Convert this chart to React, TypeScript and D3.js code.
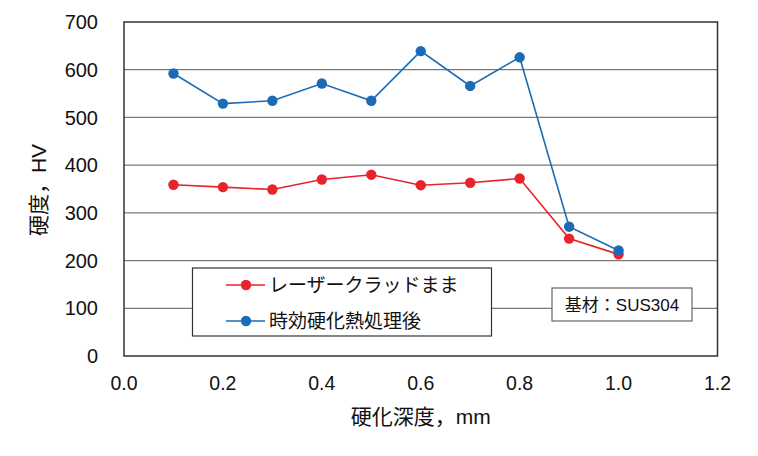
import React from "react";
import * as d3 from "d3";

const depths = [0.1, 0.2, 0.3, 0.4, 0.5, 0.6, 0.7, 0.8, 0.9, 1.0];
const laserClad = [359, 354, 349, 370, 380, 358, 363, 372, 246, 213];
const aged = [592, 529, 535, 571, 535, 639, 566, 626, 271, 221];
const xTicks = [0.0, 0.2, 0.4, 0.6, 0.8, 1.0, 1.2];
const yTicks = [0, 100, 200, 300, 400, 500, 600, 700];
const seriesNames = ["レーザークラッドまま", "時効硬化熱処理後"];
const colors = ["#e8232b", "#1b6cb5"];
const xTitle = "硬化深度，mm";
const yTitle = "硬度，HV";
const note = "基材：SUS304";

const W = 758;
const H = 456;
const M = { left: 124, right: 717.5, top: 22, bottom: 356 };
const FONT = "'Liberation Sans', Arial, 'Noto Sans CJK JP', sans-serif";

export default function App() {
  const x = d3.scaleLinear().domain([0, 1.2]).range([M.left, M.right]);
  const y = d3.scaleLinear().domain([0, 700]).range([M.bottom, M.top]);
  const line = d3
    .line<[number, number]>()
    .x((d) => x(d[0]))
    .y((d) => y(d[1]));
  const series = [laserClad, aged].map((vals) =>
    depths.map((d, i) => [d, vals[i]] as [number, number])
  );

  return (
    <svg
      width={W}
      height={H}
      style={{ position: "absolute", left: 0, top: 0, background: "#fff" }}
      fontFamily={FONT}
    >
      {/* gridlines */}
      {yTicks
        .filter((t) => t > 0 && t < 700)
        .map((t) => (
          <line
            key={t}
            x1={M.left}
            x2={M.right}
            y1={y(t)}
            y2={y(t)}
            stroke="#7a7a7a"
            strokeWidth={1.2}
          />
        ))}
      {/* plot border */}
      <rect
        x={M.left}
        y={M.top}
        width={M.right - M.left}
        height={M.bottom - M.top}
        fill="none"
        stroke="#333"
        strokeWidth={1.5}
      />
      {/* y tick labels */}
      {yTicks.map((t) => (
        <text
          key={t}
          x={98}
          y={y(t)}
          dy="0.36em"
          textAnchor="end"
          fontSize={20}
          fill="#111"
        >
          {t}
        </text>
      ))}
      {/* x tick labels */}
      {xTicks.map((t) => (
        <text
          key={t}
          x={x(t)}
          y={390}
          textAnchor="middle"
          fontSize={19.5}
          fill="#111"
        >
          {t.toFixed(1)}
        </text>
      ))}
      {/* axis titles */}
      <text
        x={(M.left + M.right) / 2}
        y={424}
        textAnchor="middle"
        fontSize={21}
        fill="#111"
      >
        {xTitle}
      </text>
      <text
        transform={`translate(46,190) rotate(-90)`}
        textAnchor="middle"
        fontSize={21}
        fill="#111"
      >
        {yTitle}
      </text>
      {/* series */}
      {series.map((pts, si) => (
        <g key={si}>
          <path
            d={line(pts) || ""}
            fill="none"
            stroke={colors[si]}
            strokeWidth={1.6}
          />
          {pts.map((p, i) => (
            <circle key={i} cx={x(p[0])} cy={y(p[1])} r={5.2} fill={colors[si]} />
          ))}
        </g>
      ))}
      {/* legend */}
      <rect
        x={192.5}
        y={268}
        width={299}
        height={68}
        fill="#fff"
        stroke="#333"
        strokeWidth={1.2}
      />
      {seriesNames.map((name, i) => {
        const cy = 285 + i * 36;
        return (
          <g key={name}>
            <line
              x1={226}
              x2={265}
              y1={cy}
              y2={cy}
              stroke={colors[i]}
              strokeWidth={1.6}
            />
            <circle cx={246} cy={cy} r={5.2} fill={colors[i]} />
            <text x={269} y={cy} dy="0.36em" fontSize={19} fill="#111">
              {name}
            </text>
          </g>
        );
      })}
      {/* note box */}
      <rect
        x={552}
        y={288}
        width={140}
        height={33}
        fill="#fff"
        stroke="#666"
        strokeWidth={1.2}
      />
      <text x={622} y={304.5} dy="0.36em" textAnchor="middle" fontSize={17} fill="#111">
        {note}
      </text>
    </svg>
  );
}
